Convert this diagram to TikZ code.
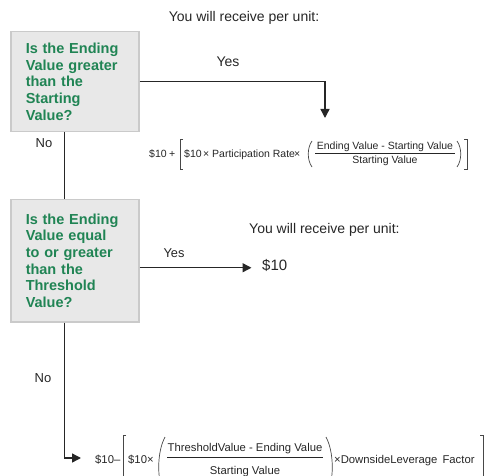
\documentclass[tikz,border=0pt]{standalone}
\usepackage{fontspec}
\setmainfont{Liberation Sans}
\usetikzlibrary{arrows.meta}
\definecolor{qgreen}{RGB}{32,132,84}
\definecolor{boxfill}{RGB}{232,232,232}
\definecolor{boxline}{RGB}{202,202,202}
\definecolor{ink}{RGB}{38,38,38}
\begin{document}
\begin{tikzpicture}[x=1pt,y=-1pt,
  qbox/.style={draw=boxline,fill=boxfill,line width=1.5pt,anchor=north west,
    inner xsep=15pt,inner ysep=0pt,text width=98pt,align=left,text=qgreen,
    font=\fontsize{14.5}{16.7}\selectfont\bfseries},
  conn/.style={draw=ink,line width=1.4pt},
  arr/.style={conn,-{Triangle[length=9pt,width=9pt]}},
  lbl/.style={inner sep=0pt,text=ink,font=\fontsize{14}{16}\selectfont},
  fa/.style={inner sep=0pt,text=ink,anchor=base west,font=\fontsize{10.5}{12}\selectfont},
  fb/.style={inner sep=0pt,text=ink,anchor=base west,font=\fontsize{11.3}{13}\selectfont},
  brk/.style={draw=ink!85,line width=0.7pt}]
\useasboundingbox (0,0) rectangle (485,476);
\clip (0,0) rectangle (485,476);

% question boxes
\node[qbox,minimum height=100pt] (b1) at (10,31)
  {Is the Ending\\Value greater\\than the\\Starting\\Value?};
\node[qbox,minimum height=122pt] (b2) at (10,199)
  {Is the Ending\\Value equal\\to or greater\\than the\\Threshold\\Value?};

% labels
\node[lbl] (recv1) at (244,18) {You will receive per unit:};
\node[lbl] (yes1) at (228,62) {Yes};
\node[lbl,font=\fontsize{13}{15}\selectfont] (no1) at (44,143) {No};
\node[lbl,anchor=west] (recv2) at (249,230) {You will receive per unit:};
\node[lbl,font=\fontsize{12.8}{15}\selectfont] (yes2) at (174,253) {Yes};
\node[lbl,anchor=west,font=\fontsize{15}{17}\selectfont] (ten) at (262,265) {\$10};
\node[lbl,font=\fontsize{13}{15}\selectfont] (no2) at (43,378) {No};

% formula 1
\node[fa] (fa1) at (149,158) {\$10};
\node[fa] (fa2) at (169,158) {+};
\draw[brk] (183,139) -- (180,139) -- (180,169) -- (183,169);
\node[fa] (fa3) at (184,158) {\$10};
\node[fa] (fa4) at (203,158) {×};
\node[fa] (fa5) at (212,158) {Participation Rate};
\node[fa] (fa6) at (294,158) {×};
\draw[brk] (312,141) .. controls (307,148) and (307,160) .. (312,167);
\node[fa,anchor=base] (fan) at (385,150) {Ending Value - Starting Value};
\draw[draw=ink,line width=0.7pt] (315,153) -- (455,153);
\node[fa,anchor=base] (fad) at (385,164) {Starting Value};
\draw[brk] (457,141) .. controls (462,148) and (462,160) .. (457,167);
\draw[brk] (464,139) -- (467,139) -- (467,169) -- (464,169);
\coordinate (a1) at (325,118);

% formula 2
\node[fb] (fb1) at (95,463) {\$10–};
\draw[brk] (126,435) -- (123,435) -- (123,495);
\node[fb] (fb2) at (128,463) {\$10×};
\draw[brk] (165,437) .. controls (157,452) and (157,478) .. (163,492);
\node[fb,anchor=base] (fbn) at (245,451) {ThresholdValue - Ending Value};
\draw[draw=ink,line width=0.7pt] (167,457) -- (323,457);
\node[fb,anchor=base] (fbd) at (245,474) {Starting Value};
\draw[brk] (326,437) .. controls (334,452) and (334,478) .. (328,492);
\node[fb] (fb3) at (334,463) {×DownsideLeverage\, Factor};
\draw[brk] (480,435) -- (483,435) -- (483,495);
\coordinate (a2) at (81,458);

% connectors
\draw[arr] (b1.east) -| (a1);
\draw[conn] ([xshift=-10pt]b1.south) -- ([xshift=-10pt]b2.north);
\draw[arr] ([yshift=-7pt]b2.east) -- ++(112,0);
\draw[arr] ([xshift=-10pt]b2.south) |- (a2);
\end{tikzpicture}
\end{document}
